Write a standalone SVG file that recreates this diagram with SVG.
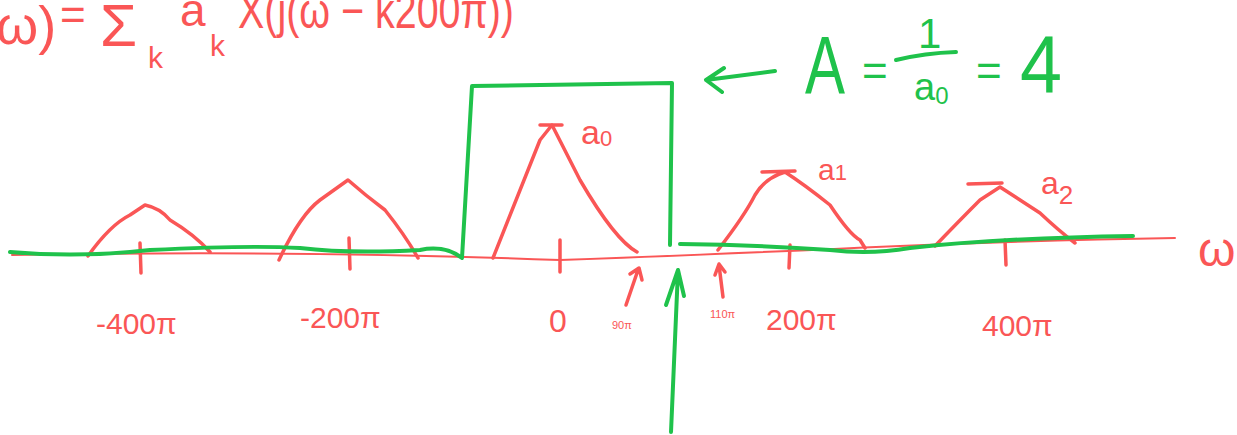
<svg xmlns="http://www.w3.org/2000/svg" width="1237" height="435" viewBox="0 0 1237 435">
<style>
.r{fill:none;stroke:#fa5656;stroke-width:3.5;stroke-linecap:round;stroke-linejoin:round}
.rt{fill:none;stroke:#fa5656;stroke-width:2;stroke-linecap:round}
.g{fill:none;stroke:#1fc24b;stroke-width:4;stroke-linecap:round;stroke-linejoin:round}
.tr{fill:#fa5656;font-family:"Liberation Sans",sans-serif}
.tg{fill:#1fc24b;font-family:"Liberation Sans",sans-serif}
</style>
<rect width="1237" height="435" fill="#ffffff"/>
<g id="equation">
<text class="tr" x="-4" y="44" font-size="54">ω)</text>
<text class="tr" x="60" y="30" font-size="44">=</text>
<text class="tr" x="100" y="46" font-size="60">Σ</text>
<text class="tr" x="148" y="68" font-size="30">k</text>
<text class="tr" x="180" y="26" font-size="46">a</text>
<text class="tr" x="210" y="56" font-size="30">k</text>
<text class="tr" x="238" y="28" font-size="50" textLength="276" lengthAdjust="spacingAndGlyphs">X(j(ω − k200π))</text>
</g>
<g id="axis">
<path class="rt" d="M12,255 Q300,250 560,260 Q700,255 900,246 Q1050,240 1175,238"/>
<path class="r" d="M140,243 L141,273 M349,238 L350,269 M560,240 L560,272 M790,245 L789,268 M1005,240 L1006,265"/>
<text class="tr" x="1198" y="266" font-size="48">ω</text>
</g>
<g id="spectrum">
<path class="r" d="M88,256 Q110,225 130,215 L145,205 Q160,208 170,220 Q195,235 210,252"/>
<path class="r" d="M279,260 Q300,215 320,200 L348,180 Q365,195 385,210 Q405,235 418,258"/>
<path class="r" d="M493,258 L540,140 L552,125 L580,180 Q615,240 637,252"/>
<path class="r" d="M540,125 L562,125"/>
<path class="r" d="M718,250 Q745,215 755,195 Q765,178 785,172 Q805,185 830,205 Q850,235 860,240 L865,248"/>
<path class="r" d="M762,172 L795,171"/>
<path class="r" d="M935,246 Q960,220 980,200 L1000,187 Q1020,200 1040,213 Q1058,230 1075,243"/>
<path class="r" d="M968,184 L1002,183"/>
</g>
<g id="labels">
<text class="tr" x="96" y="334" font-size="30">-400π</text>
<text class="tr" x="300" y="328" font-size="30">-200π</text>
<text class="tr" x="549" y="332" font-size="32">0</text>
<text class="tr" x="766" y="330" font-size="30">200π</text>
<text class="tr" x="982" y="336" font-size="30">400π</text>
<text class="tr" x="581" y="144" font-size="34">a<tspan font-size="22" dy="2">0</tspan></text>
<text class="tr" x="818" y="180" font-size="30">a<tspan font-size="22" dy="0">1</tspan></text>
<text class="tr" x="1041" y="194" font-size="32">a<tspan font-size="26" dy="10">2</tspan></text>
<text class="tr" x="612" y="329" font-size="11">90π</text>
<text class="tr" x="710" y="318" font-size="11">110π</text>
</g>
<g id="filter">
<path class="g" d="M10,252 Q80,258 150,250 Q250,245 300,248 Q350,254 420,250 Q445,245 462,258 L472,86 L672,83 L670,245"/>
<path class="g" d="M680,244 Q760,245 830,250 Q870,255 910,248 Q1000,238 1133,236"/>
<path class="g" d="M775,71 L706,80 M724,68 L706,80 L722,92"/>
<text class="tg" x="805" y="93" font-size="82" textLength="40" lengthAdjust="spacingAndGlyphs">A</text>
<text class="tg" x="862" y="86" font-size="44">=</text>
<path class="g" d="M896,60 Q925,53 956,52"/>
<text class="tg" x="918" y="48" font-size="42">1</text>
<text class="tg" x="914" y="100" font-size="38">a<tspan font-size="24" dy="4">0</tspan></text>
<text class="tg" x="976" y="86" font-size="44">=</text>
<text class="tg" x="1020" y="93" font-size="82" textLength="42" lengthAdjust="spacingAndGlyphs">4</text>
</g>
<g id="connectors">
<path class="g" d="M671,432 L678,270 M666,305 L678,270 L684,296"/>
<path class="r" d="M626,305 L638,270 M630,274 L639,268 L642,280"/>
<path class="r" d="M723,297 L719,265 M715,275 L719,264 L725,272"/>
</g>
</svg>
